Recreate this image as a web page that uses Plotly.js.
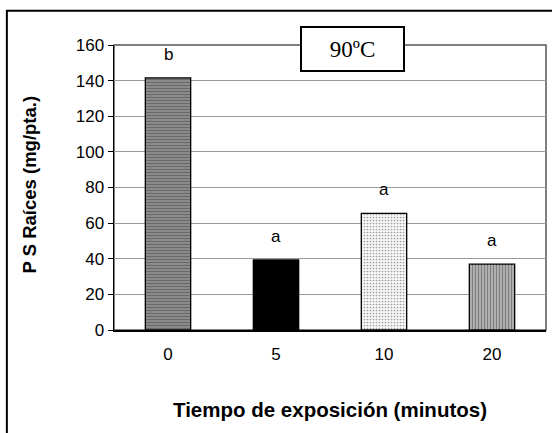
<!DOCTYPE html>
<html>
<head>
<meta charset="utf-8">
<script src="https://cdn.plot.ly/plotly-3.0.1.min.js"></script>
<style>
  html, body { margin: 0; padding: 0; background: #fff; }
  #chart { width: 552px; height: 433px; }
</style>
</head>
<body>
<div id="chart"></div>
<script>
// Exposure time categories (minutes)
const categories = ['0', '5', '10', '20'];
// Root dry weight (mg/plant)
const rootWeight = [141.5, 39.3, 65.5, 37.0];
// Significance letters
const letters = ['b', 'a', 'a', 'a'];
// Y axis ticks
const yTicks = [0, 20, 40, 60, 80, 100, 120, 140, 160];

// Bar fill styles, one per treatment: base colour plus an overlaid hatch
const fills = [
  { color: '#8e8e8e', shape: '-', fgcolor: '#5e5e5e', size: 3, solidity: 0.4 },
  { color: '#000000', shape: '',  fgcolor: '#000000', size: 4, solidity: 0.3 },
  { color: '#f6f6f6', shape: '.', fgcolor: '#c4c4c4', size: 3, solidity: 0.25 },
  { color: '#b4b4b4', shape: '|', fgcolor: '#5a5a5a', size: 3, solidity: 0.4 }
];

const bars = {
  type: 'bar',
  x: categories,
  y: rootWeight,
  marker: {
    color: fills.map(f => f.color),
    pattern: {
      shape: fills.map(f => f.shape),
      fgcolor: fills.map(f => f.fgcolor),
      size: fills.map(f => f.size),
      solidity: fills.map(f => f.solidity),
      fillmode: 'overlay'
    },
    line: { color: '#000', width: 1.3 }
  },
  hoverinfo: 'none'
};

const font = 'Arial, "Liberation Sans", sans-serif';

// letters placed over each bar, by category index
const letterNotes = categories.map((c, i) => ({
  x: i, y: rootWeight[i], xref: 'x', yref: 'y',
  text: letters[i], showarrow: false, yanchor: 'bottom', yshift: 12,
  font: { family: font, size: 17, color: '#000' }
}));

const layout = {
  width: 552, height: 433,
  margin: { l: 114, r: 6, t: 45, b: 103 },
  paper_bgcolor: '#fff', plot_bgcolor: '#fff',
  showlegend: false,
  bargap: 0.58,
  xaxis: {
    type: 'category',
    range: [-0.5, categories.length - 0.5],
    showline: true, linecolor: '#000', linewidth: 1.5,
    ticks: '', showgrid: false, zeroline: false,
    tickfont: { family: font, size: 17, color: '#000' },
    ticklabelstandoff: 8
  },
  yaxis: {
    range: [0, 160],
    tickvals: yTicks,
    showline: true, linecolor: '#000', linewidth: 1.5,
    ticks: 'outside', ticklen: 5, tickcolor: '#000', tickwidth: 1,
    showgrid: true, gridcolor: '#9a9a9a', gridwidth: 1,
    zeroline: false,
    tickfont: { family: font, size: 17, color: '#000' }
  },
  shapes: [
    // plot area frame
    { type: 'rect', xref: 'paper', yref: 'paper', x0: 0, x1: 1, y0: 0, y1: 1,
      line: { color: '#555', width: 1.5 }, layer: 'below' },
    // outer chart frame
    { type: 'rect', xref: 'paper', yref: 'paper', x0: -0.248, x1: 1.05, y0: -0.4, y1: 1.12,
      line: { color: '#000', width: 2 }, fillcolor: 'rgba(0,0,0,0)' }
  ],
  annotations: letterNotes.concat([
    { text: '90ºC', xref: 'paper', yref: 'paper', x: 0.551, y: 0.985,
      showarrow: false, xanchor: 'center', yanchor: 'middle',
      width: 101, height: 42, bgcolor: '#fff', bordercolor: '#000', borderwidth: 2, borderpad: 0,
      font: { family: '"Times New Roman", "Liberation Serif", serif', size: 23, color: '#000' } },
    { text: '<b>Tiempo de exposición (minutos)</b>', xref: 'paper', yref: 'paper',
      x: 0.50, y: -0.28, showarrow: false, xanchor: 'center', yanchor: 'middle',
      font: { family: font, size: 20.5, color: '#000' } },
    { text: '<b>P S Raíces (mg/pta.)</b>', xref: 'paper', yref: 'paper',
      x: -0.195, y: 0.51, showarrow: false, textangle: -90, xanchor: 'center', yanchor: 'middle',
      font: { family: font, size: 18.5, color: '#000' } }
  ])
};

Plotly.newPlot('chart', [bars], layout, { staticPlot: true, displayModeBar: false });
</script>
</body>
</html>
